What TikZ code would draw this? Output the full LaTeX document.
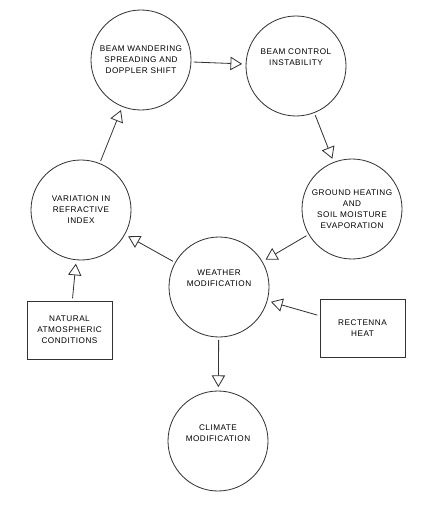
\documentclass[tikz,border=0pt]{standalone}
\usepackage{fontspec}
\setmainfont{Liberation Sans}[LetterSpace=6]
\usetikzlibrary{arrows.meta}

\tikzset{
  stage/.style={draw=black!80, line width=0.7pt, circle, minimum size=3cm,
    align=center, inner sep=0pt, font=\fontsize{7}{9.5}\selectfont},
  source/.style={draw=black!80, line width=0.7pt, rectangle, minimum width=2.55cm,
    minimum height=1.74cm, align=center, inner sep=0pt, font=\fontsize{7}{9.5}\selectfont},
  flow/.style={draw=black!80, line width=0.7pt, shorten <=2pt, shorten >=3pt,
    -{Triangle[open, length=3.5mm, width=4mm]}},
}

\begin{document}
\begin{tikzpicture}[x=0.03cm, y=-0.03cm]
  \fill[white] (0,0) rectangle (421,512);
  \useasboundingbox (0,0) rectangle (421,512);

  \node[stage] (beam) at (141,60) {BEAM WANDERING\\SPREADING AND\\DOPPLER SHIFT};
  \node[stage] (control) at (296,66) {BEAM CONTROL\\INSTABILITY\\[6pt]};
  \node[stage] (ground) at (352,209) {GROUND HEATING\\AND\\SOIL MOISTURE\\EVAPORATION};
  \node[stage] (variation) at (81,210) {VARIATION IN\\REFRACTIVE\\INDEX};
  \node[stage] (weather) at (219,287) {WEATHER\\MODIFICATION\\[6pt]};
  \node[stage] (climate) at (218,441) {CLIMATE\\MODIFICATION\\[4pt]};

  \node[source] (natural) at (69.5,330) {NATURAL\\ATMOSPHERIC\\CONDITIONS};
  \node[source] (rectenna) at (362.5,328) {RECTENNA\\HEAT};

  \foreach \a/\b in {beam/control, control/ground, ground/weather, weather/variation,
      variation/beam, natural/variation, rectenna/weather, weather/climate} {
    \draw[flow] (\a) -- (\b);
  }
\end{tikzpicture}
\end{document}
